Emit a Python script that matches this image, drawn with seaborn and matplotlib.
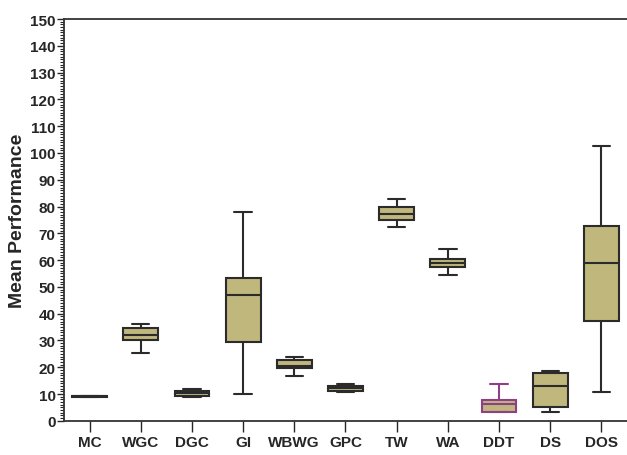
import pandas as pd
import matplotlib
matplotlib.use("Agg")
import matplotlib.pyplot as plt
import seaborn as sns
from matplotlib.ticker import MultipleLocator

# five-number summaries: low whisker, Q1, median, Q3, high whisker
groups = ['MC', 'WGC', 'DGC', 'GI', 'WBWG', 'GPC', 'TW', 'WA', 'DDT', 'DS', 'DOS']
low = [9.0, 25.5, 9.0, 10.0, 16.7, 10.9, 72.5, 54.6, 3.2, 3.1, 10.9]
q1 = [9.0, 30.0, 9.4, 29.4, 19.8, 11.3, 74.9, 57.3, 3.2, 5.1, 37.2]
median = [9.1, 32.0, 10.2, 46.8, 20.6, 12.2, 77.2, 59.0, 6.1, 12.9, 59.0]
q3 = [9.3, 34.5, 11.0, 53.2, 22.6, 12.9, 80.0, 60.4, 7.9, 17.7, 72.9]
high = [9.4, 36.0, 12.0, 77.9, 24.0, 13.9, 82.7, 64.3, 13.9, 18.7, 102.5]

rows = []
for i, g in enumerate(groups):
    for v in [low[i], q1[i], median[i], q3[i], high[i]]:
        rows.append({'group': g, 'value': v})
df = pd.DataFrame(rows)

sns.set_style("ticks")
plt.rcParams['font.family'] = ['Liberation Sans', 'DejaVu Sans']

fig = plt.figure(figsize=(6.27, 4.56), dpi=100)
ax = fig.add_axes([0.102, 0.075, 0.898, 0.881])

edge = '#2b2b2b'
sns.boxplot(data=df, x='group', y='value', order=groups, whis=(0, 100),
            width=0.68, color='#c0b77d', saturation=1, linewidth=1.5,
            linecolor=edge, ax=ax)

# DDT drawn with a purple outline
purple = '#8e3f86'
ddt = groups.index('DDT')
ax.patches[ddt].set_edgecolor(purple)
n_lines = len(ax.lines) // len(groups)
for ln in ax.lines[ddt * n_lines:(ddt + 1) * n_lines]:
    ln.set_color(purple)

ax.set_ylim(0, 150)
ax.set_xlim(-0.5, 10.5)
ax.yaxis.set_major_locator(MultipleLocator(10))
ax.yaxis.set_minor_locator(MultipleLocator(1))
ax.tick_params(axis='y', which='major', length=5, width=1, labelsize=11, pad=1)
ax.tick_params(axis='y', which='minor', length=3, width=0.8)
ax.tick_params(axis='x', length=8, width=1, labelsize=11, pad=2)
for lab in ax.get_xticklabels() + ax.get_yticklabels():
    lab.set_fontweight('bold')

ax.set_xlabel('')
ax.set_ylabel('Mean Performance', fontsize=14, fontweight='bold', labelpad=3)
for s in ['left', 'bottom', 'top']:
    ax.spines[s].set_linewidth(1.3)
    ax.spines[s].set_color('#333333')
ax.spines['right'].set_visible(False)

fig.savefig('out.png', dpi=100)
